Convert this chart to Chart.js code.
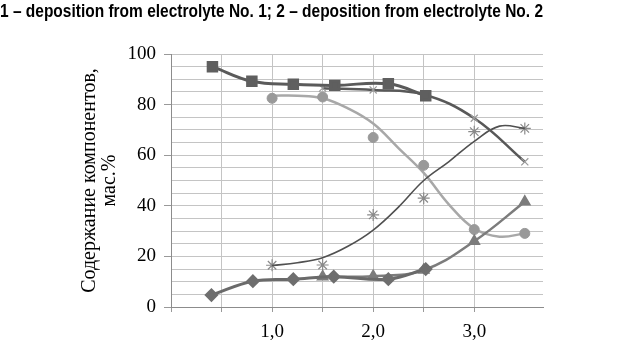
<!DOCTYPE html>
<html>
<head>
<meta charset="utf-8">
<script src="https://cdn.jsdelivr.net/npm/chart.js@4.4.1/dist/chart.umd.min.js"></script>
<style>
  html, body { margin: 0; padding: 0; background: #fff; }
</style>
</head>
<body>
<canvas id="chart" width="619" height="341"></canvas>
<script>
// Данные
const titleText = '1 \u2013 deposition from electrolyte No. 1; 2 \u2013 deposition from electrolyte No. 2';
const yTitle = ['Содержание компонентов,', 'мас.%'];

const squareX = [0.41, 0.80, 1.21, 1.62, 2.15, 2.52];
const squareY = [95, 89.2, 88, 87.6, 88.2, 83.5];

const diamondX = [0.40, 0.81, 1.21, 1.61, 2.15, 2.52];
const diamondY = [4.7, 10.2, 11, 12, 11, 15];

const triangleX = [1.5, 2.0, 2.5, 3.0, 3.5];
const triangleY = [12, 12.2, 14.6, 26, 41.6];

const crossX = [1.5, 2.0, 2.5, 3.0, 3.5];
const crossY = [86.5, 85.8, 84, 74.6, 57.4];

const circleX = [1.0, 1.5, 2.0, 2.5, 3.0, 3.5];
const circleY = [82.5, 83, 67, 56, 30.6, 29.1];

const starX = [1.0, 1.5, 2.0, 2.5, 3.0, 3.5];
const starY = [16.5, 16.6, 36.4, 43, 69.3, 70.6];

// линии тренда
const trendX = [1.0, 1.25, 1.5, 1.75, 2.0, 2.25, 2.5, 2.75, 3.0, 3.25, 3.5];
const circleTrendY = [83.5, 83.5, 82.5, 78.5, 72.5, 62.8, 53, 40.5, 31, 27.8, 29.1];
const starTrendY = [16.4, 17.5, 19.5, 24, 30.4, 39.5, 50, 57.5, 65.5, 71.5, 70.6];

const xTickLabels = { 1: '1,0', 2: '2,0', 3: '3,0' };

function pts(xs, ys) {
    return xs.map((x, i) => ({ x: x, y: ys[i] }));
}

const serif = 'Liberation Serif';

const ctx = document.getElementById('chart').getContext('2d');
new Chart(ctx, {
    type: 'scatter',
    data: {
        datasets: [
            {
                data: pts(squareX, squareY),
                showLine: true, tension: 0.4,
                borderColor: '#5a5a5a', borderWidth: 3,
                pointStyle: 'rect', pointRadius: 6,
                pointBackgroundColor: '#5f5f5f', pointBorderColor: '#5f5f5f'
            },
            {
                data: pts(diamondX, diamondY),
                showLine: true, tension: 0.4,
                borderColor: '#6a6a6a', borderWidth: 3,
                pointStyle: 'rectRot', pointRadius: 5,
                pointBackgroundColor: '#6e6e6e', pointBorderColor: '#6e6e6e'
            },
            {
                data: pts(triangleX, triangleY),
                showLine: true, tension: 0.4,
                borderColor: '#7c7c7c', borderWidth: 2.5,
                pointStyle: 'triangle', pointRadius: 5,
                pointBackgroundColor: '#7c7c7c', pointBorderColor: '#7c7c7c'
            },
            {
                data: pts(crossX, crossY),
                showLine: true, tension: 0.4,
                borderColor: '#585858', borderWidth: 2.5,
                pointStyle: 'crossRot', pointRadius: 5, pointBorderWidth: 1.2,
                pointBorderColor: '#9a9a9a'
            },
            {
                data: pts(trendX, starTrendY),
                showLine: true, tension: 0.4,
                borderColor: '#505050', borderWidth: 1.6,
                pointRadius: 0
            },
            {
                data: pts(starX, starY),
                showLine: false,
                pointStyle: 'star', pointRadius: 6, pointBorderWidth: 1.2,
                pointBorderColor: '#8a8a8a'
            },
            {
                data: pts(circleX, circleY),
                showLine: false,
                pointStyle: 'circle', pointRadius: 5,
                pointBackgroundColor: '#999999', pointBorderColor: '#999999'
            },
            {
                data: pts(trendX, circleTrendY),
                showLine: true, tension: 0.4,
                borderColor: '#a8a8a8', borderWidth: 2.5,
                pointRadius: 0
            }
        ]
    },
    options: {
        responsive: false,
        animation: false,
        layout: { padding: { left: 0, right: 76, top: 0, bottom: 0 } },
        plugins: {
            legend: { display: false },
            tooltip: { enabled: false },
            title: {
                display: true,
                text: titleText,
                color: '#000',
                font: { family: 'Liberation Sans', size: 17.5, weight: 'bold', lineHeight: 1.2 },
                padding: { top: 2, bottom: 31 }
            }
        },
        scales: {
            x: {
                type: 'linear',
                min: 0, max: 3.68,
                afterBuildTicks: s => { s.ticks = s.ticks.filter(t => Math.abs(t.value * 2 - Math.round(t.value * 2)) < 1e-6); },
                afterFit: s => { s.height = 34; },
                ticks: {
                    stepSize: 0.5, autoSkip: false, maxRotation: 0,
                    padding: 9, color: '#000',
                    font: { family: serif, size: 19 },
                    callback: v => xTickLabels[v] || ''
                },
                grid: { color: '#c4c4c4', lineWidth: 1, tickLength: 5, tickColor: '#999' },
                border: { color: '#8c8c8c', width: 1 }
            },
            y: {
                min: 0, max: 100,
                afterFit: s => { s.width = 171; },
                ticks: {
                    stepSize: 5, autoSkip: false, padding: 8, color: '#000',
                    font: { family: serif, size: 19 },
                    callback: v => (v % 20 === 0 ? v : '')
                },
                grid: {
                    color: '#c4c4c4', lineWidth: 1, tickLength: 7,
                    tickColor: c => (c.tick && c.tick.value % 20 === 0 ? '#999' : 'rgba(0,0,0,0)')
                },
                border: { color: '#8c8c8c', width: 1 },
                title: {
                    display: true,
                    text: yTitle,
                    color: '#000',
                    font: { family: serif, size: 20, lineHeight: 1.0 },
                    padding: { top: 80, bottom: 0 }
                }
            }
        }
    }
});
</script>
</body>
</html>
